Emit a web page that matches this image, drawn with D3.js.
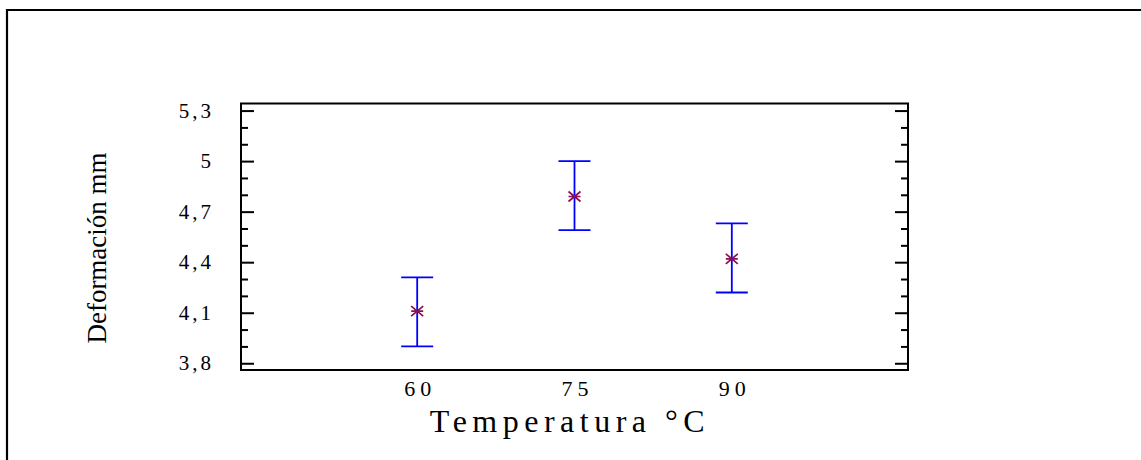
<!DOCTYPE html>
<html>
<head>
<meta charset="utf-8">
<script src="https://cdn.jsdelivr.net/npm/d3@7"></script>
<style>
  body { margin: 0; background: #fff; }
  text { font-family: "Liberation Serif", "Times New Roman", serif; fill: #000; }
  .axis path { display: none; }
  .axis line { stroke: #000; stroke-width: 2; }
</style>
</head>
<body>
<div id="chart"></div>
<script>
// data
const temps = [60, 75, 90];
const means = [4.11, 4.79, 4.42];
const lower = [3.90, 4.59, 4.22];
const upper = [4.31, 5.00, 4.63];
const yTicks = [3.8, 4.1, 4.4, 4.7, 5.0, 5.3];
const yMinor = [3.9, 4.0, 4.2, 4.3, 4.5, 4.6, 4.8, 4.9, 5.1, 5.2];

const W = 1141, H = 460;
const margin = {top: 103.5, right: 233, bottom: 90, left: 241};
const width = W - margin.left - margin.right;
const height = H - margin.top - margin.bottom;

const svg = d3.select("#chart").append("svg")
    .attr("width", W)
    .attr("height", H);

// outer frame (left + top only visible)
svg.append("path")
    .attr("d", `M7,${H} V10 H${W}`)
    .attr("fill", "none")
    .attr("stroke", "#000")
    .attr("stroke-width", 2.2);

const g = svg.append("g")
    .attr("transform", `translate(${margin.left},${margin.top})`);

// scales
const x = d3.scaleLinear().domain([43.2, 106.8]).range([0, width]);
const y = d3.scaleLinear().domain([3.76, 5.342]).range([height, 0]);

// minor ticks left / right
g.append("g").attr("class", "axis")
    .call(d3.axisLeft(y).tickValues(yMinor).tickSize(-7).tickFormat(""));
g.append("g").attr("class", "axis")
    .attr("transform", `translate(${width},0)`)
    .call(d3.axisRight(y).tickValues(yMinor).tickSize(-7).tickFormat(""));

// major ticks left with labels
const yAxis = g.append("g").attr("class", "axis")
    .call(d3.axisLeft(y).tickValues(yTicks).tickSize(-13).tickPadding(27)
        .tickFormat(d => d3.format(".1~f")(d).replace(".", ",")));
yAxis.selectAll("text")
    .attr("font-size", 21)
    .attr("letter-spacing", "3px")
    .attr("font-family", "Liberation Serif");

g.append("g").attr("class", "axis")
    .attr("transform", `translate(${width},0)`)
    .call(d3.axisRight(y).tickValues(yTicks).tickSize(-13).tickFormat(""));

// x axis labels
const xAxis = g.append("g").attr("class", "axis")
    .attr("transform", `translate(0,${height})`)
    .call(d3.axisBottom(x).tickValues(temps).tickSize(0).tickPadding(10));
xAxis.selectAll("text")
    .attr("font-size", 22)
    .attr("letter-spacing", "5px")
    .attr("dx", "2.5px")
    .attr("font-family", "Liberation Serif");

// plot box
g.append("rect")
    .attr("width", width)
    .attr("height", height)
    .attr("fill", "none")
    .attr("stroke", "#000")
    .attr("stroke-width", 2);

// axis titles
g.append("text")
    .attr("x", 567 - margin.left + 3)
    .attr("y", height + 62)
    .attr("text-anchor", "middle")
    .attr("font-size", 32)
    .attr("letter-spacing", "5.5px")
    .text("Temperatura °C");

g.append("text")
    .attr("transform", `translate(${97 - margin.left + 9},${248 - margin.top}) rotate(-90)`)
    .attr("text-anchor", "middle")
    .attr("font-size", 27)
    .text("Deformación mm");

// error bars
const idx = d3.range(temps.length);
const bars = g.append("g");
bars.selectAll(".stem").data(idx).join("line")
    .attr("x1", i => x(temps[i])).attr("x2", i => x(temps[i]))
    .attr("y1", i => y(lower[i])).attr("y2", i => y(upper[i]))
    .attr("stroke", "#0000ff").attr("stroke-width", 1.8);
bars.selectAll(".capT").data(idx).join("line")
    .attr("x1", i => x(temps[i]) - 16).attr("x2", i => x(temps[i]) + 16)
    .attr("y1", i => y(upper[i])).attr("y2", i => y(upper[i]))
    .attr("stroke", "#0000ff").attr("stroke-width", 1.8);
bars.selectAll(".capB").data(idx).join("line")
    .attr("x1", i => x(temps[i]) - 16).attr("x2", i => x(temps[i]) + 16)
    .attr("y1", i => y(lower[i])).attr("y2", i => y(lower[i]))
    .attr("stroke", "#0000ff").attr("stroke-width", 1.8);

// mean markers (asterisk)
bars.selectAll(".mark").data(idx).join("path")
    .attr("transform", i => `translate(${x(temps[i])},${y(means[i])})`)
    .attr("d", "M-6,-5L6,5M-6,5L6,-5M-6,0H6")
    .attr("stroke", "#8b1050")
    .attr("stroke-width", 1.7)
    .attr("fill", "none");
</script>
</body>
</html>
